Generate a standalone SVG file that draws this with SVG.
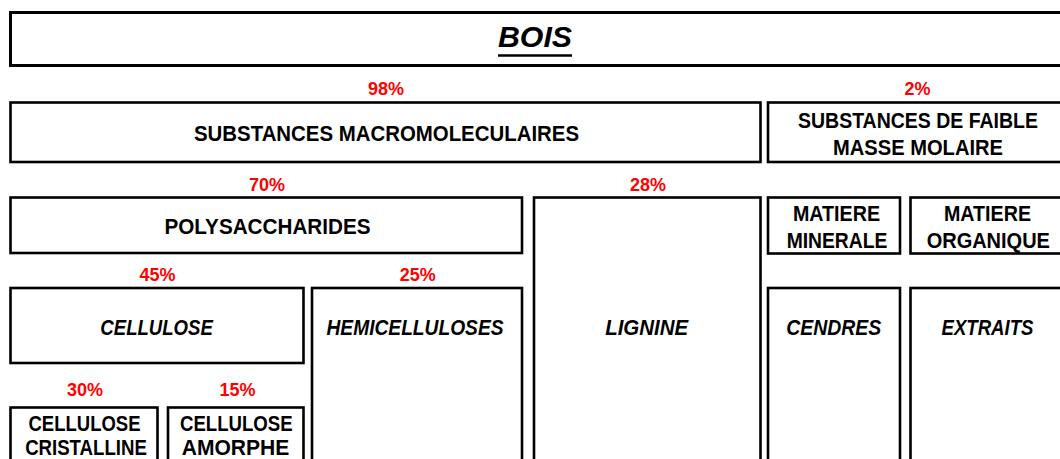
<svg xmlns="http://www.w3.org/2000/svg" width="1060" height="459" viewBox="0 0 1060 459">
<style>
.box{fill:#fff;stroke:#000;stroke-width:2.6}
.t{font-family:"Liberation Sans",Arial,sans-serif;font-weight:bold;font-size:22px;fill:#000;text-anchor:middle}
.i{font-style:italic}
.p{font-family:"Liberation Sans",Arial,sans-serif;font-weight:bold;font-size:18px;fill:#ff0000;text-anchor:middle}
</style>
<rect width="1060" height="459" fill="#fff"/>
<g id="bois">
<rect class="box" x="10.5" y="12.5" width="1060" height="53" style="stroke-width:3"/>
<text class="t i" x="535" y="47" style="font-size:29px" textLength="74" lengthAdjust="spacingAndGlyphs">BOIS</text>
<line x1="498" y1="55.5" x2="572" y2="55.5" stroke="#000" stroke-width="2.6"/>
</g>
<g id="macro">
<text class="p" x="386" y="95">98%</text>
<rect class="box" x="10.5" y="102.5" width="750" height="59.5"/>
<text class="t" x="386.5" y="141" textLength="385" lengthAdjust="spacingAndGlyphs">SUBSTANCES MACROMOLECULAIRES</text>
</g>
<g id="faible">
<text class="p" x="917.5" y="95">2%</text>
<rect class="box" x="768" y="102.5" width="300" height="59.5"/>
<text class="t" x="918" y="128.3" textLength="240" lengthAdjust="spacingAndGlyphs">SUBSTANCES DE FAIBLE</text>
<text class="t" x="918" y="155" textLength="170" lengthAdjust="spacingAndGlyphs">MASSE MOLAIRE</text>
</g>
<g id="polysaccharides">
<text class="p" x="267" y="191">70%</text>
<rect class="box" x="10.5" y="197.5" width="511.5" height="55.5"/>
<text class="t" x="267.5" y="234" textLength="206" lengthAdjust="spacingAndGlyphs">POLYSACCHARIDES</text>
</g>
<g id="lignine">
<text class="p" x="648" y="191">28%</text>
<rect class="box" x="534" y="197.5" width="226.5" height="280"/>
<text class="t i" x="646.7" y="334.5" textLength="83" lengthAdjust="spacingAndGlyphs">LIGNINE</text>
</g>
<g id="minerale">
<rect class="box" x="768" y="197.5" width="132" height="56"/>
<text class="t" x="836.5" y="221" textLength="87" lengthAdjust="spacingAndGlyphs">MATIERE</text>
<text class="t" x="837" y="248.3" textLength="100.7" lengthAdjust="spacingAndGlyphs">MINERALE</text>
</g>
<g id="organique">
<rect class="box" x="910.5" y="197.5" width="160" height="56"/>
<text class="t" x="987.5" y="221" textLength="87" lengthAdjust="spacingAndGlyphs">MATIERE</text>
<text class="t" x="988.3" y="248.3" textLength="123.3" lengthAdjust="spacingAndGlyphs">ORGANIQUE</text>
</g>
<g id="cellulose">
<text class="p" x="157.5" y="281">45%</text>
<rect class="box" x="10.5" y="288" width="293" height="75"/>
<text class="t i" x="156.6" y="335" textLength="112.5" lengthAdjust="spacingAndGlyphs">CELLULOSE</text>
</g>
<g id="hemicelluloses">
<text class="p" x="417.7" y="281">25%</text>
<rect class="box" x="312" y="288" width="210" height="190"/>
<text class="t i" x="415" y="334.5" textLength="177" lengthAdjust="spacingAndGlyphs">HEMICELLULOSES</text>
</g>
<g id="cendres">
<rect class="box" x="768" y="288" width="132" height="190"/>
<text class="t i" x="833.7" y="334.5" textLength="95" lengthAdjust="spacingAndGlyphs">CENDRES</text>
</g>
<g id="extraits">
<rect class="box" x="910.5" y="288" width="160" height="190"/>
<text class="t i" x="987.5" y="334.5" textLength="92" lengthAdjust="spacingAndGlyphs">EXTRAITS</text>
</g>
<g id="cristalline">
<text class="p" x="85" y="396">30%</text>
<rect class="box" x="10.5" y="407.5" width="147" height="70"/>
<text class="t" x="84.5" y="430.7" textLength="112" lengthAdjust="spacingAndGlyphs">CELLULOSE</text>
<text class="t" x="86" y="455" textLength="121.7" lengthAdjust="spacingAndGlyphs">CRISTALLINE</text>
</g>
<g id="amorphe">
<text class="p" x="237.5" y="396">15%</text>
<rect class="box" x="168" y="407.5" width="135.5" height="70"/>
<text class="t" x="236.3" y="430.7" textLength="112.7" lengthAdjust="spacingAndGlyphs">CELLULOSE</text>
<text class="t" x="235.5" y="455" textLength="107.6" lengthAdjust="spacingAndGlyphs">AMORPHE</text>
</g>
</svg>
